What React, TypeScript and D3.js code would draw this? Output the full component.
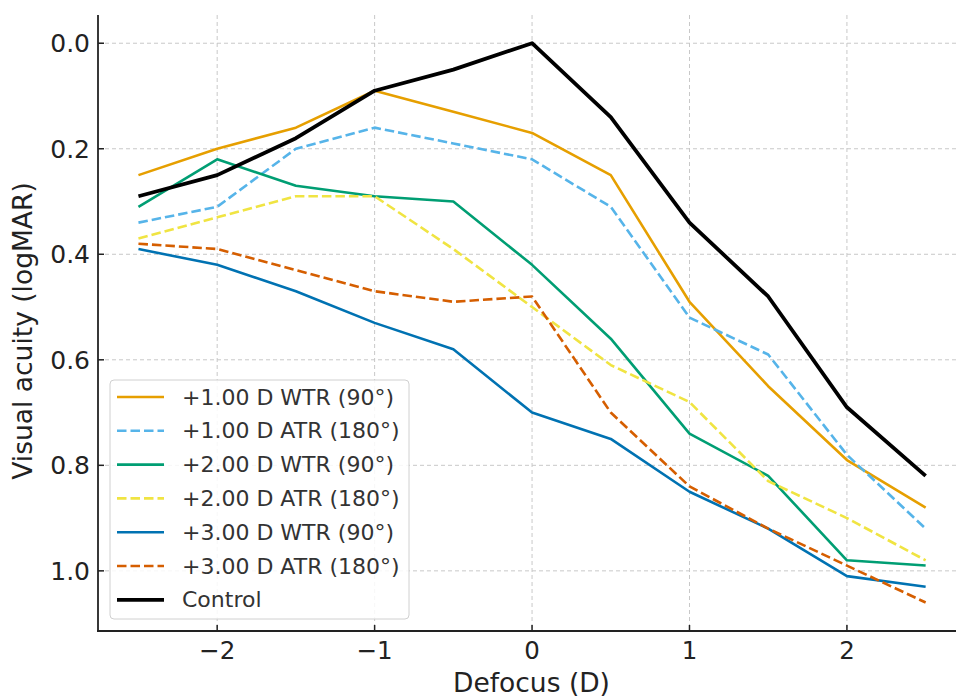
import React from "react";
import * as d3 from "d3";

const defocus = [-2.5, -2, -1.5, -1, -0.5, 0, 0.5, 1, 1.5, 2, 2.5];
const wtr1 = [0.25, 0.2, 0.16, 0.09, 0.13, 0.17, 0.25, 0.49, 0.65, 0.79, 0.88];
const atr1 = [0.34, 0.31, 0.2, 0.16, 0.19, 0.22, 0.31, 0.52, 0.59, 0.78, 0.92];
const wtr2 = [0.31, 0.22, 0.27, 0.29, 0.3, 0.42, 0.56, 0.74, 0.82, 0.98, 0.99];
const atr2 = [0.37, 0.33, 0.29, 0.29, 0.39, 0.5, 0.61, 0.68, 0.83, 0.9, 0.98];
const wtr3 = [0.39, 0.42, 0.47, 0.53, 0.58, 0.7, 0.75, 0.85, 0.92, 1.01, 1.03];
const atr3 = [0.38, 0.39, 0.43, 0.47, 0.49, 0.48, 0.7, 0.84, 0.92, 0.99, 1.06];
const control = [0.29, 0.25, 0.18, 0.09, 0.05, 0.0, 0.14, 0.34, 0.48, 0.69, 0.82];

const xTicks = [-2, -1, 0, 1, 2];
const yTicks = [0, 0.2, 0.4, 0.6, 0.8, 1.0];

const series = [
  { label: "+1.00 D WTR (90°)", values: wtr1, color: "#E69F00", dashed: false, width: 2.6 },
  { label: "+1.00 D ATR (180°)", values: atr1, color: "#56B4E9", dashed: true, width: 2.6 },
  { label: "+2.00 D WTR (90°)", values: wtr2, color: "#009E73", dashed: false, width: 2.6 },
  { label: "+2.00 D ATR (180°)", values: atr2, color: "#F0E442", dashed: true, width: 2.6 },
  { label: "+3.00 D WTR (90°)", values: wtr3, color: "#0072B2", dashed: false, width: 2.6 },
  { label: "+3.00 D ATR (180°)", values: atr3, color: "#D55E00", dashed: true, width: 2.6 },
  { label: "Control", values: control, color: "#000000", dashed: false, width: 3.8 },
];

const W = 956;
const H = 698;
const left = 98;
const right = 965;
const top = 15;
const bottom = 631;

export default function App() {
  const x = d3.scaleLinear().domain([-2.757, 2.75]).range([left, right]);
  const y = d3.scaleLinear().domain([-0.0535, 1.114]).range([top, bottom]);
  const line = d3
    .line<number>()
    .x((_, i) => x(defocus[i]))
    .y((d) => y(d));
  const font = "DejaVu Sans, sans-serif";
  const lgX = 110;
  const lgY = 380;
  const rowH = 33.8;
  return (
    <svg
      width={W}
      height={H}
      style={{ position: "absolute", left: 0, top: 0, background: "#fff" }}
      fontFamily={font}
    >
      <rect width={W} height={H} fill="#fff" />
      {xTicks.map((t) => (
        <line key={"gx" + t} x1={x(t)} x2={x(t)} y1={top} y2={bottom} stroke="#c8c8c8" strokeWidth={1} strokeDasharray="4,3" />
      ))}
      {yTicks.map((t) => (
        <line key={"gy" + t} x1={left} x2={right} y1={y(t)} y2={y(t)} stroke="#c8c8c8" strokeWidth={1} strokeDasharray="4,3" />
      ))}
      {series.map((s) => (
        <path
          key={s.label}
          d={line(s.values) || ""}
          fill="none"
          stroke={s.color}
          strokeWidth={s.width}
          strokeDasharray={s.dashed ? "9.5,4" : undefined}
          strokeLinejoin="round"
        />
      ))}
      <line x1={left} x2={left} y1={top} y2={bottom + 1} stroke="#222" strokeWidth={1.8} />
      <line x1={left - 1} x2={W} y1={bottom} y2={bottom} stroke="#222" strokeWidth={1.8} />
      {xTicks.map((t) => (
        <g key={"tx" + t}>
          <line x1={x(t)} x2={x(t)} y1={bottom} y2={bottom - 6} stroke="#222" strokeWidth={1.5} />
          <text x={x(t)} y={659} textAnchor="middle" fontSize={24.5} fill="#222">
            {t < 0 ? "\u2212" + Math.abs(t) : String(t)}
          </text>
        </g>
      ))}
      {yTicks.map((t) => (
        <g key={"ty" + t}>
          <line x1={left} x2={left + 6} y1={y(t)} y2={y(t)} stroke="#222" strokeWidth={1.5} />
          <text x={90} y={y(t) + 9} textAnchor="end" fontSize={25} fill="#222">
            {t.toFixed(1)}
          </text>
        </g>
      ))}
      <text x={(left + right) / 2} y={692} textAnchor="middle" fontSize={26.5} fill="#222">
        Defocus (D)
      </text>
      <text
        transform={`translate(32, 331) rotate(-90)`}
        textAnchor="middle"
        fontSize={26.5}
        fill="#222"
      >
        Visual acuity (logMAR)
      </text>
      <rect x={lgX} y={lgY} width={299} height={239} rx={4} fill="#fff" fillOpacity={0.85} stroke="#d0d0d0" strokeWidth={1} />
      {series.map((s, i) => {
        const cy = lgY + 17 + i * rowH;
        return (
          <g key={"lg" + i}>
            <line
              x1={117}
              x2={164}
              y1={cy}
              y2={cy}
              stroke={s.color}
              strokeWidth={s.width}
              strokeDasharray={s.dashed ? "9.5,4" : undefined}
            />
            <text x={182} y={cy + 7.5} fontSize={22} fill="#333">
              {s.label}
            </text>
          </g>
        );
      })}
    </svg>
  );
}
